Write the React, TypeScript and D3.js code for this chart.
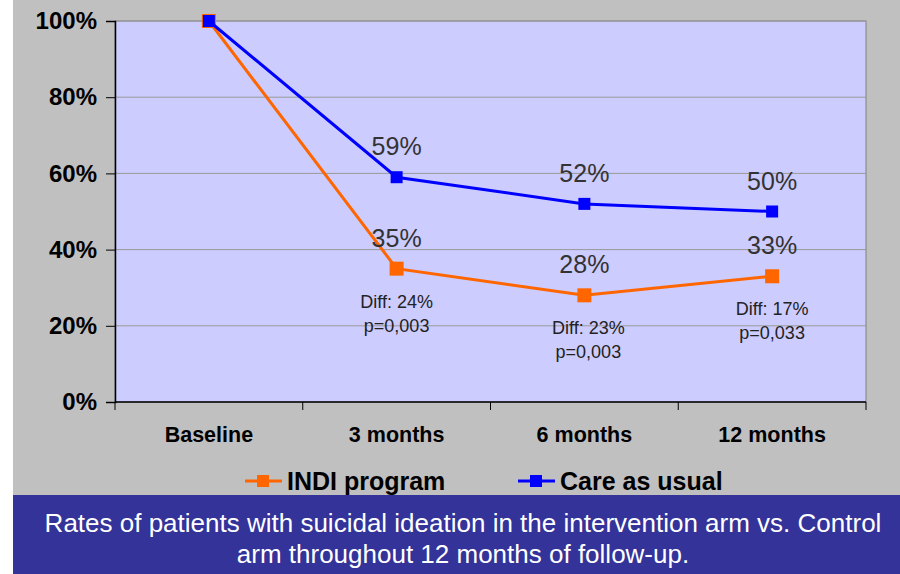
import React, { useEffect, useRef } from 'react';
import * as d3 from 'd3';

const categories = ['Baseline', '3 months', '6 months', '12 months'];
const indiValues = [100, 35, 28, 33];
const careValues = [100, 59, 52, 50];
const diffLabels = ['', 'Diff: 24%', 'Diff: 23%', 'Diff: 17%'];
const pLabels = ['', 'p=0,003', 'p=0,003', 'p=0,033'];
const yTicks = [0, 20, 40, 60, 80, 100];
const captionLines = [
  'Rates of patients with suicidal ideation in the intervention arm vs. Control',
  'arm throughout 12 months of follow-up.',
];

const FONT = '"Liberation Sans", Arial, sans-serif';

const App: React.FC = () => {
  const ref = useRef<SVGSVGElement>(null);

  useEffect(() => {
    const svg = d3.select(ref.current);
    svg.selectAll('*').remove();

    const W = 900;
    const H = 574;
    const plot = { left: 115, right: 866, top: 21, bottom: 402 };

    // page background
    svg.append('rect').attr('x', 0).attr('y', 0).attr('width', W).attr('height', H).attr('fill', '#ffffff');
    svg.append('rect').attr('x', 13).attr('y', 0).attr('width', W - 13).attr('height', H).attr('fill', '#c0c0c0');

    const x = d3.scaleBand().domain(categories).range([plot.left, plot.right]).padding(0);
    const y = d3.scaleLinear().domain([0, 100]).range([plot.bottom, plot.top]);
    const cx = (c: string) => (x(c) as number) + x.bandwidth() / 2;

    // plot area
    svg.append('rect')
      .attr('x', plot.left).attr('y', plot.top)
      .attr('width', plot.right - plot.left).attr('height', plot.bottom - plot.top)
      .attr('fill', '#ccccff')
      .attr('stroke', '#808080').attr('stroke-width', 1);

    // gridlines
    svg.append('g')
      .selectAll('line')
      .data(yTicks.filter((t) => t > 0))
      .enter().append('line')
      .attr('x1', plot.left).attr('x2', plot.right)
      .attr('y1', (d) => y(d)).attr('y2', (d) => y(d))
      .attr('stroke', '#999999').attr('stroke-width', 1);

    // y axis
    const yAxis = svg.append('g')
      .attr('transform', `translate(${plot.left},0)`)
      .call(d3.axisLeft(y).tickValues(yTicks).tickSize(9).tickPadding(9).tickFormat((d) => `${d}%`));
    yAxis.select('.domain').attr('stroke', '#000').attr('stroke-width', 1.5);
    yAxis.selectAll('.tick line').attr('stroke', '#000');
    yAxis.selectAll('text')
      .attr('font-family', FONT).attr('font-size', 24).attr('font-weight', 'bold').attr('fill', '#000');

    // x axis
    const xTickScale = d3.scaleLinear().domain([0, categories.length]).range([plot.left, plot.right]);
    const xAxis = svg.append('g').attr('transform', `translate(0,${plot.bottom})`);
    xAxis.append('line')
      .attr('x1', plot.left).attr('x2', plot.right).attr('y1', 0).attr('y2', 0)
      .attr('stroke', '#000').attr('stroke-width', 1.5);
    xAxis.selectAll('line.tk')
      .data(d3.range(categories.length + 1))
      .enter().append('line')
      .attr('class', 'tk')
      .attr('x1', (d) => xTickScale(d)).attr('x2', (d) => xTickScale(d))
      .attr('y1', 0).attr('y2', 8)
      .attr('stroke', '#000').attr('stroke-width', 1);
    xAxis.selectAll('text')
      .data(categories)
      .enter().append('text')
      .attr('x', (d) => cx(d)).attr('y', 40)
      .attr('text-anchor', 'middle')
      .attr('font-family', FONT).attr('font-size', 21.5).attr('font-weight', 'bold').attr('fill', '#000')
      .text((d) => d);

    const line = d3.line<number>()
      .x((_, i) => cx(categories[i]))
      .y((d) => y(d));

    const series = [
      { name: 'INDI program', values: indiValues, color: '#ff6600', size: 14 },
      { name: 'Care as usual', values: careValues, color: '#0000ff', size: 12 },
    ];

    series.forEach((s) => {
      svg.append('path')
        .datum(s.values)
        .attr('d', line)
        .attr('fill', 'none')
        .attr('stroke', s.color)
        .attr('stroke-width', 3);
      svg.append('g')
        .selectAll('rect')
        .data(s.values)
        .enter().append('rect')
        .attr('x', (_, i) => cx(categories[i]) - s.size / 2)
        .attr('y', (d) => y(d) - s.size / 2)
        .attr('width', s.size).attr('height', s.size)
        .attr('fill', s.color);
      // value labels (skip baseline)
      svg.append('g')
        .selectAll('text')
        .data(s.values.slice(1))
        .enter().append('text')
        .attr('x', (_, i) => cx(categories[i + 1]))
        .attr('y', (d) => y(d) - 22)
        .attr('text-anchor', 'middle')
        .attr('font-family', FONT).attr('font-size', 25).attr('fill', '#333333')
        .text((d) => `${d}%`);
    });

    // difference annotations below INDI points
    const ann = svg.append('g');
    categories.forEach((c, i) => {
      if (!diffLabels[i]) return;
      const px = cx(c) + (i === 2 ? 4 : 0);
      const py = y(indiValues[i]);
      ann.append('text')
        .attr('x', px).attr('y', py + 39)
        .attr('text-anchor', 'middle')
        .attr('font-family', FONT).attr('font-size', 18).attr('fill', '#222')
        .text(diffLabels[i]);
      ann.append('text')
        .attr('x', px).attr('y', py + 63)
        .attr('text-anchor', 'middle')
        .attr('font-family', FONT).attr('font-size', 18).attr('fill', '#222')
        .text(pLabels[i]);
    });

    // legend
    const legendY = 481;
    const legendX = [245, 518];
    series.forEach((s, i) => {
      const g = svg.append('g').attr('transform', `translate(${legendX[i]},${legendY})`);
      g.append('line').attr('x1', 0).attr('x2', 37).attr('y1', 0).attr('y2', 0)
        .attr('stroke', s.color).attr('stroke-width', 3);
      g.append('rect').attr('x', 18 - 6).attr('y', -6).attr('width', 12).attr('height', 12).attr('fill', s.color);
      g.append('text').attr('x', 42).attr('y', 9)
        .attr('font-family', FONT).attr('font-size', 25).attr('font-weight', 'bold').attr('fill', '#000')
        .text(s.name);
    });

    // caption band
    svg.append('rect').attr('x', 13).attr('y', 495).attr('width', W - 13).attr('height', H - 495).attr('fill', '#333399');
    svg.append('g')
      .selectAll('text')
      .data(captionLines)
      .enter().append('text')
      .attr('x', 463).attr('y', (_, i) => 532 + i * 31)
      .attr('text-anchor', 'middle')
      .attr('font-family', FONT).attr('font-size', 26).attr('fill', '#ffffff')
      .text((d) => d);
  }, []);

  return (
    <svg ref={ref} width={900} height={574} style={{ position: 'absolute', left: 0, top: 0, display: 'block' }} />
  );
};

export default App;
